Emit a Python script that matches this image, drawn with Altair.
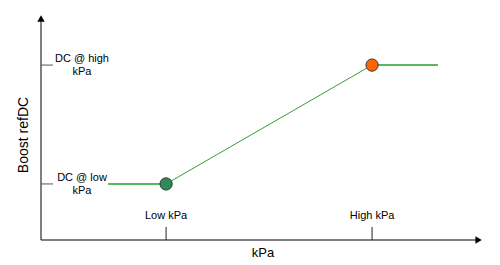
import altair as alt
import pandas as pd

# Curve (abstract units 0-100 on both axes)
curve_x = [15.2, 28.3, 74.9, 89.8]
curve_y = [24.8, 24.8, 77.4, 77.4]

# Breakpoints
point_x = [28.3, 74.9]
point_y = [24.8, 77.4]
point_name = ["low", "high"]

# Tick labels
x_tick_vals = [28.3, 74.9]
x_tick_labels = ["Low kPa", "High kPa"]
y_tick_vals = [24.8, 77.4]
y_tick_labels = ["DC @ low\nkPa", "DC @ high\nkPa"]

x_axis_end = 99.0
y_axis_end = 98.0

FONT = "Liberation Sans"

xs = alt.Scale(domain=[0, 100], nice=False, zero=False)
ys = alt.Scale(domain=[0, 100], nice=False, zero=False)

curve = pd.DataFrame({"x": curve_x, "y": curve_y})
flats = pd.DataFrame({"x": [curve_x[0], curve_x[2]], "x2": [curve_x[1], curve_x[3]],
                      "y": [curve_y[0], curve_y[2]]})
pts = pd.DataFrame({"x": point_x, "y": point_y, "name": point_name})
xt = pd.DataFrame({"x": x_tick_vals, "label": x_tick_labels})
yt = pd.DataFrame({"y": y_tick_vals, "label": y_tick_labels})
axes = pd.DataFrame({"x0": [0], "y0": [0], "xe": [x_axis_end], "ye": [y_axis_end]})

base_axes = alt.Chart(axes)
x_axis = base_axes.mark_rule(color="black", strokeWidth=1).encode(
    x=alt.X("x0:Q", scale=xs, axis=None), x2="xe:Q",
    y=alt.Y("y0:Q", scale=ys, axis=None))
y_axis = base_axes.mark_rule(color="black", strokeWidth=1).encode(
    x=alt.X("x0:Q", scale=xs, axis=None),
    y=alt.Y("y0:Q", scale=ys, axis=None), y2="ye:Q")
x_arrow = base_axes.mark_point(shape="triangle-right", filled=True, color="black",
                               size=55, opacity=1).encode(
    x=alt.X("xe:Q", scale=xs, axis=None), y=alt.Y("y0:Q", scale=ys, axis=None))
y_arrow = base_axes.mark_point(shape="triangle-up", filled=True, color="black",
                               size=55, opacity=1).encode(
    x=alt.X("x0:Q", scale=xs, axis=None), y=alt.Y("ye:Q", scale=ys, axis=None))

x_ticks = alt.Chart(xt).mark_rule(color="#222", strokeWidth=1).encode(
    x=alt.X("x:Q", scale=xs, axis=None), y=alt.value(213), y2=alt.value(226))
x_labels = alt.Chart(xt).mark_text(font=FONT, fontSize=11, color="black",
                                   baseline="middle").encode(
    x=alt.X("x:Q", scale=xs, axis=None), y=alt.value(202), text="label:N")

y_ticks = alt.Chart(yt).mark_rule(color="#555", strokeWidth=1).encode(
    y=alt.Y("y:Q", scale=ys, axis=None), x=alt.value(0), x2=alt.value(12))
y_labels = alt.Chart(yt).mark_text(font=FONT, fontSize=11, color="black",
                                   baseline="middle", align="center", dy=-6,
                                   lineBreak="\n", lineHeight=13).encode(
    y=alt.Y("y:Q", scale=ys, axis=None), x=alt.value(41), text="label:N")

line = alt.Chart(curve).mark_line(color="#33a033", strokeWidth=1).encode(
    x=alt.X("x:Q", scale=xs, axis=None), y=alt.Y("y:Q", scale=ys, axis=None))
flat = alt.Chart(flats).mark_rule(color="#5cb85c", strokeWidth=2).encode(
    x=alt.X("x:Q", scale=xs, axis=None), x2="x2:Q",
    y=alt.Y("y:Q", scale=ys, axis=None))
points = alt.Chart(pts).mark_point(filled=True, size=150, stroke="#333",
                                   strokeWidth=1, opacity=1).encode(
    x=alt.X("x:Q", scale=xs, axis=None), y=alt.Y("y:Q", scale=ys, axis=None),
    fill=alt.Fill("name:N", scale=alt.Scale(domain=["low", "high"],
                                            range=["#2e8b57", "#ff6600"]),
                  legend=None))

titles = pd.DataFrame({"t": ["kPa"]})
x_title = alt.Chart(titles).mark_text(font=FONT, fontSize=13, color="black",
                                      baseline="middle").encode(
    x=alt.value(222), y=alt.value(239), text="t:N")
y_title = alt.Chart(pd.DataFrame({"t": ["Boost refDC"]})).mark_text(
    font=FONT, fontSize=14, color="black", baseline="middle", angle=270).encode(
    x=alt.value(-17), y=alt.value(121), text="t:N")

chart = alt.layer(x_axis, y_axis, x_arrow, y_arrow, x_ticks, x_labels, y_ticks,
                  y_labels, line, flat, points, x_title, y_title).properties(
    width=442, height=226,
    autosize=alt.AutoSizeParams(type="none"),
    padding={"left": 41, "top": 14, "right": 17, "bottom": 25},
    background="white",
).configure_view(stroke=None, clip=False)

chart.save("out.html", embed_options={"renderer": "svg", "actions": False})
